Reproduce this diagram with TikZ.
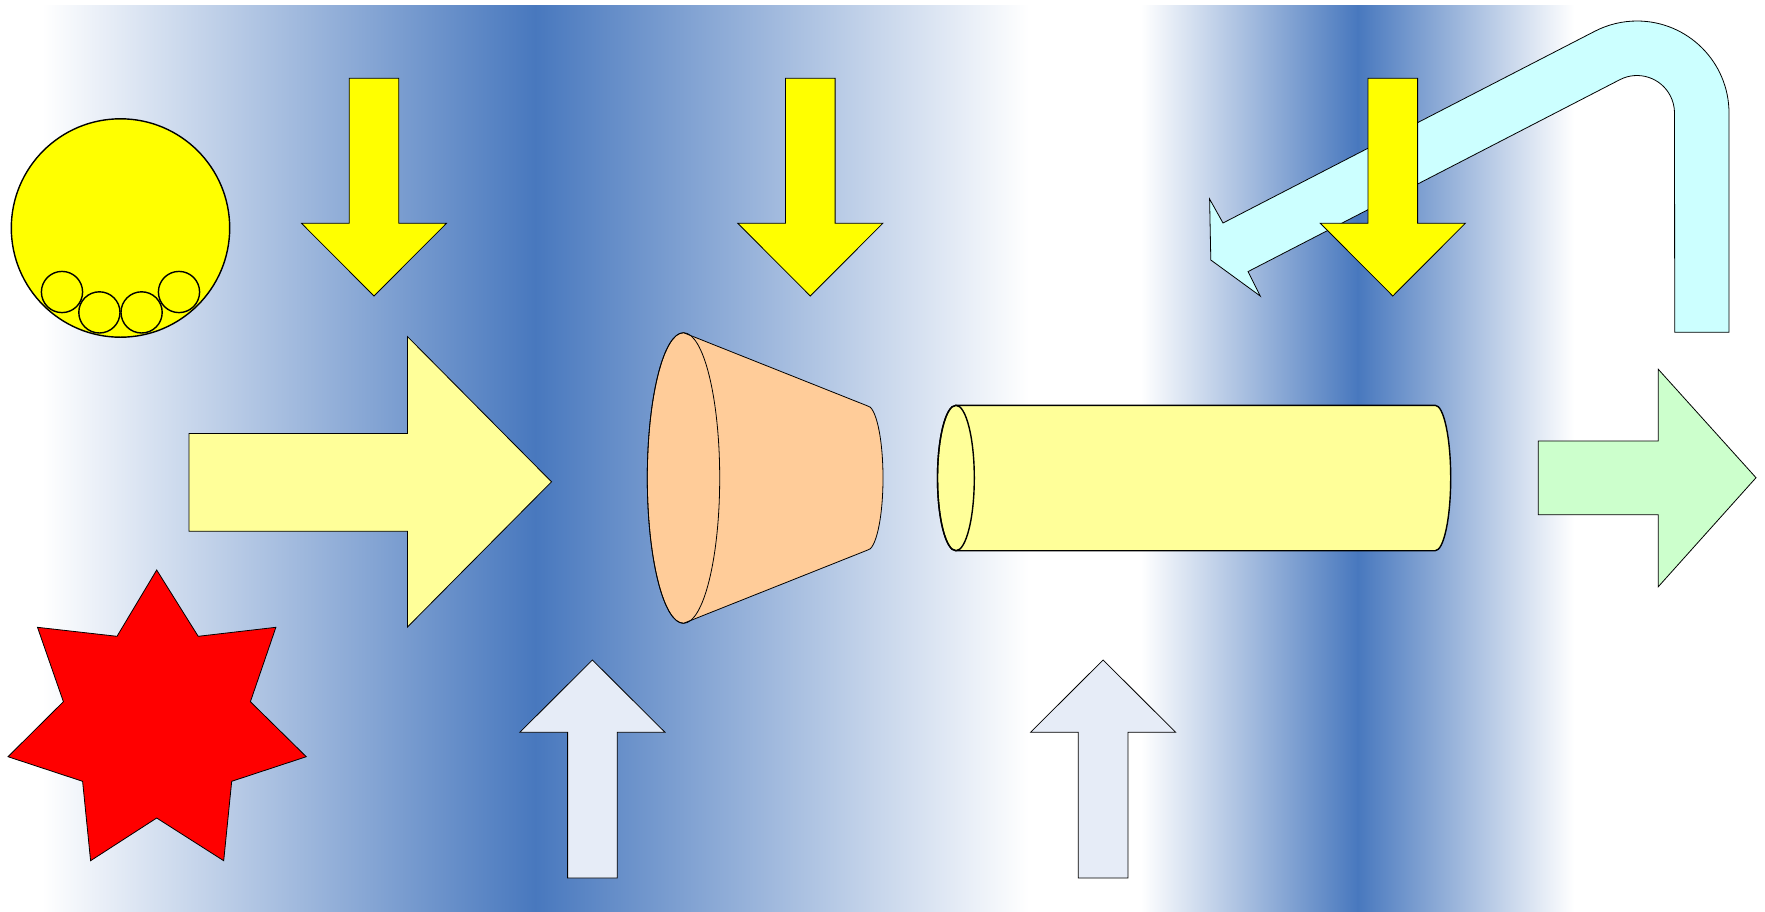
\documentclass[tikz,border=0pt]{standalone}
\definecolor{bandblue}{RGB}{72,120,190}
\definecolor{arrowyellow}{RGB}{255,255,0}
\definecolor{paleyellow}{RGB}{255,255,153}
\definecolor{paleorange}{RGB}{255,204,153}
\definecolor{palecyan}{RGB}{204,255,255}
\definecolor{palegreen}{RGB}{204,255,204}
\definecolor{paleblue}{RGB}{230,236,247}
\begin{document}
\begin{tikzpicture}[x=1pt,y=-1pt,
  outl/.style={draw=black, line width=0.8pt, line join=miter},
  thick outl/.style={draw=black, line width=1.4pt},
  darrow/.pic={\path[outl, fill=arrowyellow] (-24.8,0) -- (24.8,0) -- (24.8,145) -- (72.5,145) -- (0,217.7) -- (-72.5,145) -- (-24.8,145) -- cycle;},
  uarrow/.pic={\path[outl, fill=paleblue] (0,0) -- (72.6,72.3) -- (24.8,72.3) -- (24.8,218) -- (-24.8,218) -- (-24.8,72.3) -- (-72.6,72.3) -- cycle;}]
\useasboundingbox (0,0) rectangle (1765,911);
\fill[white] (0,0) rectangle (1765,911);
% background bands
\shade[left color=white, right color=bandblue] (42,5) rectangle (535.5,911);
\shade[left color=bandblue, right color=white] (535,5) rectangle (1029,911);
\shade[left color=white, right color=bandblue] (1141,5) rectangle (1358,911);
\shade[left color=bandblue, right color=white] (1357.5,5) rectangle (1574,911);
% big yellow circle with small circles
\path[thick outl, fill=arrowyellow] (120.5,228) circle[radius=109.2];
\foreach \cx/\cy in {62/292, 99.4/312.4, 141.6/312.4, 179/292}
  \path[thick outl, fill=arrowyellow] (\cx,\cy) circle[radius=20.6];
% down arrows (first two)
\pic at (374,78.3) {darrow};
\pic at (810.3,78.3) {darrow};
% big pale yellow right arrow
\path[outl, fill=paleyellow] (189,433.4) -- (407.5,433.4) -- (407.5,336.6) -- (551.5,481.8) -- (407.5,627) -- (407.5,531.3) -- (189,531.3) -- cycle;
% red seven-pointed star
\path[outl, fill=red] (156.7,570) -- (198.2,636.3) -- (275.9,627.3) -- (250.4,701.7) -- (306.3,756.7) -- (231.7,781.3) -- (223.7,860.7) -- (156.7,818) -- (90.6,860.7) -- (82.6,781.3) -- (8,756.7) -- (63.4,701.7) -- (37.5,627.3) -- (117,636.3) -- cycle;
% up arrows
\pic at (592.4,660) {uarrow};
\pic at (1103.1,660) {uarrow};
% frustum
\path[outl, fill=paleorange] (683.5,332.7) -- (867,405.7) arc[start angle=-90, end angle=90, x radius=16, y radius=72.3] -- (683.5,623.3) arc[start angle=90, end angle=270, x radius=36.2, y radius=145.3] -- cycle;
\draw[outl] (683.5,478) ellipse[x radius=36.2, y radius=145.3];
% cylinder
\path[thick outl, fill=paleyellow] (955.9,405.3) -- (1435.2,405.3) arc[start angle=-90, end angle=90, x radius=15.5, y radius=72.7] -- (955.9,550.7) arc[start angle=90, end angle=270, x radius=18.4, y radius=72.7] -- cycle;
\draw[thick outl] (955.9,478) ellipse[x radius=18.4, y radius=72.7];
% U-turn arrow
\path[outl, fill=palecyan] (1674.7,332.3) -- (1729,332.3) -- (1729,113) arc[start angle=0, end angle=-117.3, radius=92] -- (1223,223) -- (1209.6,199) -- (1210.8,260) -- (1260.2,296) -- (1248,271.6) -- (1619.8,79.7) arc[start angle=-117.3, end angle=0, radius=37.5] -- cycle;
% third down arrow
\pic at (1392.8,78.3) {darrow};
% green right arrow
\path[outl, fill=palegreen] (1538.3,441) -- (1658.3,441) -- (1658.3,369.3) -- (1756,477.7) -- (1658.3,586.7) -- (1658.3,514.7) -- (1538.3,514.7) -- cycle;
\end{tikzpicture}
\end{document}
